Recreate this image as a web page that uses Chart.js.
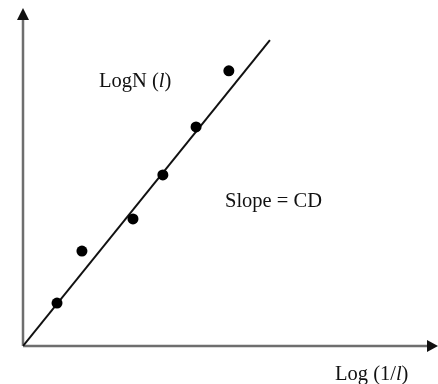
<!DOCTYPE html>
<html>
<head>
<meta charset="utf-8">
<script src="https://cdn.jsdelivr.net/npm/chart.js@4"></script>
<style>
html,body{margin:0;padding:0;background:#fff;}
#wrap{width:438px;height:384px;position:relative;}
</style>
</head>
<body>
<div id="wrap"><canvas id="c" width="438" height="384"></canvas></div>
<script>
// Data (arbitrary units)
const pointX = [0.82, 1.42, 2.65, 3.37, 4.17, 4.96];
const pointY = [1.27, 2.81, 3.76, 5.06, 6.48, 8.14];
const fitX = [0, 5.95];
const fitY = [0, 9.05];
const yLabel = ['LogN (', 'l', ')'];
const xLabel = ['Log (1/', 'l', ')'];
const slopeLabel = 'Slope = CD';

const FONT = '"Liberation Serif", "Times New Roman", serif';

function drawParts(ctx, parts, x, y, size) {
  let cx = x;
  parts.forEach((p, i) => {
    ctx.font = (i === 1 ? 'italic ' : '') + size + 'px ' + FONT;
    ctx.fillText(p, cx, y);
    cx += ctx.measureText(p).width;
  });
}

const axesPlugin = {
  id: 'axesArrows',
  beforeDatasetsDraw(chart) {
    const ctx = chart.ctx, a = chart.chartArea;
    ctx.save();
    ctx.strokeStyle = '#6e6e6e';
    ctx.fillStyle = '#111';
    ctx.lineWidth = 2.5;
    // y axis
    ctx.beginPath();
    ctx.moveTo(a.left, a.bottom);
    ctx.lineTo(a.left, a.top + 10);
    ctx.stroke();
    // x axis
    ctx.beginPath();
    ctx.moveTo(a.left, a.bottom);
    ctx.lineTo(a.right - 9, a.bottom);
    ctx.stroke();
    // arrows
    ctx.beginPath();
    ctx.moveTo(a.left, a.top);
    ctx.lineTo(a.left - 6, a.top + 12);
    ctx.lineTo(a.left + 6, a.top + 12);
    ctx.closePath();
    ctx.fill();
    ctx.beginPath();
    ctx.moveTo(a.right, a.bottom);
    ctx.lineTo(a.right - 11, a.bottom - 6);
    ctx.lineTo(a.right - 11, a.bottom + 6);
    ctx.closePath();
    ctx.fill();
    ctx.restore();
  },
  afterDraw(chart) {
    const ctx = chart.ctx;
    ctx.save();
    ctx.fillStyle = '#111';
    ctx.textBaseline = 'alphabetic';
    drawParts(ctx, yLabel, 99, 87, 20.5);
    ctx.font = '20.5px ' + FONT;
    ctx.fillText(slopeLabel, 225, 207);
    drawParts(ctx, xLabel, 335, 380, 20.5);
    ctx.restore();
  }
};

new Chart(document.getElementById('c'), {
  type: 'scatter',
  data: {
    datasets: [
      {
        data: fitX.map((x, i) => ({x, y: fitY[i]})),
        showLine: true,
        borderColor: '#111',
        borderWidth: 2,
        pointRadius: 0,
        order: 2
      },
      {
        data: pointX.map((x, i) => ({x, y: pointY[i]})),
        backgroundColor: '#000',
        borderColor: '#000',
        pointRadius: 5.5,
        borderWidth: 0,
        order: 1
      }
    ]
  },
  options: {
    responsive: false,
    animation: false,
    layout: {autoPadding: false, padding: {left: 23, right: 0, top: 8, bottom: 38}},
    plugins: {legend: {display: false}, tooltip: {enabled: false}},
    scales: {
      x: {type: 'linear', min: 0, max: 10, display: false},
      y: {type: 'linear', min: 0, max: 10, display: false}
    }
  },
  plugins: [axesPlugin]
});
</script>
</body>
</html>
